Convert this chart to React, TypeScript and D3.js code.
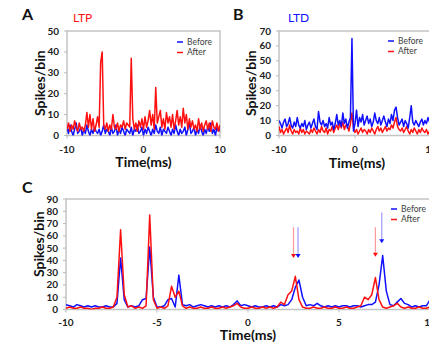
import React, { useRef, useEffect } from 'react'
import * as d3 from 'd3'

// bins are 0.2 ms wide, from -10 to +10 ms (101 bins)
const binStart = -10
const binWidth = 0.2

const ltpBefore = [
  4, 1, 5, 2, 0, 3, 6, 1, 2, 4, 0, 3, 1, 5, 2, 0, 3, 1, 4, 2,
  1, 3, 0, 2, 5, 1, 3, 2, 0, 4, 1, 2, 5, 0, 3, 1, 4, 2, 0, 3,
  2, 1, 4, 0, 3, 2, 5, 1, 2, 4, 0, 3, 1, 4, 2, 0, 3, 1, 5, 2,
  1, 4, 0, 3, 2, 1, 4, 2, 0, 3, 1, 5, 2, 0, 3, 1, 2, 4, 0, 3,
  6, 1, 2, 4, 0, 3, 1, 5, 2, 0, 3, 1, 4, 2, 6, 1, 3, 0, 4, 2, 3
]
const ltpAfter = [
  3, 6, 2, 5, 3, 7, 4, 2, 6, 3, 4, 2, 5, 11, 4, 10, 3, 8, 2, 5,
  9, 4, 35, 40, 5, 3, 6, 2, 5, 3, 10, 4, 3, 6, 2, 5, 4, 7, 3, 6,
  5, 4, 37, 8, 3, 6, 2, 7, 4, 8, 3, 9, 4, 7, 12, 5, 10, 3, 23, 6,
  9, 12, 4, 8, 3, 11, 6, 9, 4, 10, 3, 7, 12, 5, 9, 4, 13, 6, 10, 3,
  8, 4, 7, 3, 5, 2, 8, 3, 6, 2, 5, 7, 3, 6, 2, 7, 4, 3, 6, 2, 5
]
const ltdBefore = [
  10, 8, 5, 9, 11, 6, 8, 12, 7, 5, 9, 6, 12, 7, 5, 8, 6, 10, 4, 7,
  9, 5, 8, 11, 6, 4, 16, 9, 7, 10, 6, 8, 5, 12, 7, 9, 4, 8, 14, 7,
  10, 6, 15, 8, 11, 5, 9, 12, 65, 3, 8, 17, 6, 12, 9, 14, 7, 10, 13, 8,
  11, 6, 9, 15, 10, 8, 12, 7, 10, 13, 9, 6, 11, 8, 14, 10, 17, 19, 12, 7,
  9, 11, 6, 10, 8, 5, 12, 20, 9, 7, 10, 8, 6, 9, 11, 7, 10, 8, 12, 9, 8
]
const ltdAfter = [
  6, 2, 4, 1, 3, 5, 2, 7, 3, 1, 4, 2, 3, 1, 5, 2, 4, 1, 3, 2,
  1, 4, 2, 5, 3, 1, 4, 2, 6, 3, 2, 5, 1, 4, 3, 6, 2, 5, 7, 4,
  8, 5, 9, 4, 7, 6, 3, 8, 15, 5, 2, 4, 1, 3, 5, 2, 4, 3, 1, 4,
  2, 5, 3, 1, 4, 6, 3, 5, 2, 4, 6, 3, 5, 4, 7, 5, 9, 12, 6, 4,
  3, 5, 2, 4, 6, 3, 1, 4, 2, 5, 3, 1, 4, 2, 5, 3, 2, 4, 1, 3, 2
]
const cBefore = [
  4, 3, 2, 4, 3, 2, 3, 2, 3, 2, 2, 3, 2, 2, 5, 42, 8, 2, 3, 2,
  3, 8, 9, 51, 10, 2, 2, 3, 8, 9, 2, 28, 4, 3, 4, 2, 3, 4, 3, 2,
  3, 2, 3, 2, 3, 2, 4, 7, 3, 4, 3, 2, 3, 2, 2, 3, 2, 3, 2, 4,
  3, 4, 8, 18, 24, 10, 3, 4, 3, 5, 3, 2, 3, 2, 3, 2, 3, 3, 2, 3,
  3, 2, 3, 4, 4, 6, 20, 44, 15, 4, 3, 6, 9, 5, 4, 2, 3, 2, 3, 3, 8
]
const cAfter = [
  1, 2, 1, 1, 2, 1, 1, 0, 1, 1, 2, 1, 1, 2, 10, 65, 12, 2, 3, 1,
  2, 1, 3, 77, 8, 1, 2, 1, 3, 19, 10, 15, 3, 1, 2, 1, 1, 2, 1, 1,
  2, 1, 1, 2, 1, 2, 3, 5, 2, 1, 1, 2, 1, 1, 2, 1, 2, 1, 2, 6,
  4, 12, 15, 27, 8, 2, 1, 1, 2, 1, 1, 2, 1, 1, 2, 1, 1, 2, 1, 1,
  2, 3, 10, 8, 12, 26, 8, 2, 1, 2, 3, 5, 2, 1, 2, 1, 1, 2, 1, 1, 2
]
// arrows in panel C: time, top and tip in spikes/bin
const arrows = [
  { t: 2.5, from: 67, to: 42, series: 'after' },
  { t: 2.75, from: 67, to: 42, series: 'before' },
  { t: 7.0, from: 67, to: 43, series: 'after' },
  { t: 7.35, from: 79, to: 54, series: 'before' }
]
const xTicksAB = [-10, 0, 10]
const xTicksC = [-10, -5, 0, 5, 10]

const BLUE = '#1010ff'
const RED = '#ff1010'
const FONT = 'Lato, "Open Sans", sans-serif'

function App() {
  const ref = useRef(null)

  useEffect(() => {
    const svg = d3.select(ref.current)
    svg.selectAll('*').remove()

    const panels = [
      { id: 'a', letter: 'A', lx: 22, title: 'LTP', titleColor: RED, tx: 73,
        x0: 67, x1: 220, y0: 31, y1: 135.5, yMax: 50, yStep: 10, xTicks: xTicksAB,
        before: ltpBefore, after: ltpAfter, legendX: 177, legendY: 42,
        ylabX: 40, xlabY: 167, tickY: 149 },
      { id: 'b', letter: 'B', lx: 233, title: 'LTD', titleColor: BLUE, tx: 288,
        x0: 279, x1: 431, y0: 31, y1: 135.5, yMax: 70, yStep: 10, xTicks: xTicksAB,
        before: ltdBefore, after: ltdAfter, legendX: 388, legendY: 41,
        ylabX: 251, xlabY: 168, tickY: 149 },
      { id: 'c', letter: 'C', lx: 22, title: '', titleColor: '', tx: 0,
        x0: 66, x1: 430, y0: 199, y1: 309.5, yMax: 90, yStep: 10, xTicks: xTicksC,
        before: cBefore, after: cAfter, legendX: 391, legendY: 209,
        ylabX: 39, xlabY: 340, tickY: 322 }
    ]

    panels.forEach(p => {
      const x = d3.scaleLinear().domain([-10, 10]).range([p.x0, p.x1])
      const y = d3.scaleLinear().domain([0, p.yMax]).range([p.y1, p.y0])
      const g = svg.append('g')

      g.append('clipPath').attr('id', 'clip-' + p.id)
        .append('rect')
        .attr('x', p.x0).attr('y', p.y0 - 2)
        .attr('width', p.x1 - p.x0).attr('height', p.y1 - p.y0 + 2)

      // panel letter and title
      g.append('text')
        .attr('x', p.lx).attr('y', p.id === 'c' ? 193 : 20)
        .attr('font-family', FONT).attr('font-weight', 'bold').attr('font-size', 16)
        .attr('fill', '#111')
        .text(p.letter)
      if (p.title) {
        g.append('text')
          .attr('x', p.tx).attr('y', 22)
          .attr('font-family', FONT).attr('font-size', 12)
          .attr('fill', p.titleColor)
          .text(p.title)
      }

      // frame
      g.append('rect')
        .attr('x', p.x0).attr('y', p.y0)
        .attr('width', p.x1 - p.x0).attr('height', p.y1 - p.y0)
        .attr('fill', 'none').attr('stroke', '#c4c4c4').attr('stroke-width', 1.5)

      // y ticks
      const yTicks = d3.range(0, p.yMax + 1, p.yStep)
      yTicks.forEach(v => {
        g.append('line')
          .attr('x1', p.x0 - 3).attr('x2', p.x0)
          .attr('y1', y(v)).attr('y2', y(v))
          .attr('stroke', '#bbb')
        g.append('text')
          .attr('x', p.x0 - 8).attr('y', y(v)).attr('dy', '0.35em')
          .attr('text-anchor', 'end')
          .attr('font-family', FONT).attr('font-weight', 'bold').attr('font-size', 10)
          .attr('fill', '#222')
          .text(v)
      })

      // x ticks
      p.xTicks.forEach(v => {
        g.append('line')
          .attr('x1', x(v)).attr('x2', x(v))
          .attr('y1', p.y1).attr('y2', p.y1 + 3)
          .attr('stroke', '#bbb')
        g.append('text')
          .attr('x', x(v)).attr('y', p.tickY).attr('dy', '0.35em')
          .attr('text-anchor', 'middle')
          .attr('font-family', FONT).attr('font-weight', 'bold').attr('font-size', 10)
          .attr('fill', '#222')
          .text(v)
      })

      // axis titles
      g.append('text')
        .attr('x', (x(-10) + x(10)) / 2 + (p.id === 'b' ? 2 : 0)).attr('y', p.xlabY)
        .attr('text-anchor', 'middle')
        .attr('font-family', FONT).attr('font-weight', 'bold').attr('font-size', 14)
        .attr('fill', '#111')
        .text('Time(ms)')
      g.append('text')
        .attr('transform', `translate(${p.ylabX},${(p.y0 + p.y1) / 2 + (p.id === 'c' ? -10 : 0)}) rotate(-90)`)
        .attr('text-anchor', 'middle').attr('dy', '0.35em')
        .attr('font-family', FONT).attr('font-weight', 'bold').attr('font-size', 14)
        .attr('fill', '#111')
        .text('Spikes/bin')

      // traces
      const line = d3.line()
        .x((d, i) => x(binStart + i * binWidth))
        .y(d => y(d))
      const order = p.id === 'b'
        ? [{ data: p.after, color: RED }, { data: p.before, color: BLUE }]
        : [{ data: p.before, color: BLUE }, { data: p.after, color: RED }]
      const traces = g.append('g').attr('clip-path', `url(#clip-${p.id})`)
      order.forEach(s => {
        traces.append('path')
          .datum(s.data)
          .attr('d', line)
          .attr('fill', 'none')
          .attr('stroke', s.color)
          .attr('stroke-width', 1.5)
          .attr('stroke-linejoin', 'round')
      })

      // legend
      const legend = [{ label: 'Before', color: BLUE }, { label: 'After', color: RED }]
      legend.forEach((l, i) => {
        const ly = p.legendY + i * 10.5
        g.append('line')
          .attr('x1', p.legendX).attr('x2', p.legendX + 6)
          .attr('y1', ly).attr('y2', ly)
          .attr('stroke', l.color).attr('stroke-width', 1.5)
        g.append('text')
          .attr('x', p.legendX + 10).attr('y', ly).attr('dy', '0.35em')
          .attr('font-family', FONT).attr('font-size', 8.5)
          .attr('fill', '#404040')
          .text(l.label)
      })

      // arrows in panel C
      if (p.id === 'c') {
        arrows.forEach(a => {
          const c = a.series === 'after' ? RED : BLUE
          const light = a.series === 'after' ? '#ff9a9a' : '#9a9aff'
          const ax = x(a.t)
          g.append('line')
            .attr('x1', ax).attr('x2', ax)
            .attr('y1', y(a.from)).attr('y2', y(a.to) - 3)
            .attr('stroke', light).attr('stroke-width', 1.2)
          g.append('path')
            .attr('d', `M${ax - 2.5},${y(a.to) - 4}L${ax + 2.5},${y(a.to) - 4}L${ax},${y(a.to)}Z`)
            .attr('fill', c)
        })
      }
    })
  }, [])

  return (
    <div style={{ position: 'absolute', left: 0, top: 0 }}>
      <svg ref={ref} width={429} height={344} style={{ display: 'block', background: '#fff' }} />
    </div>
  )
}

export default App
